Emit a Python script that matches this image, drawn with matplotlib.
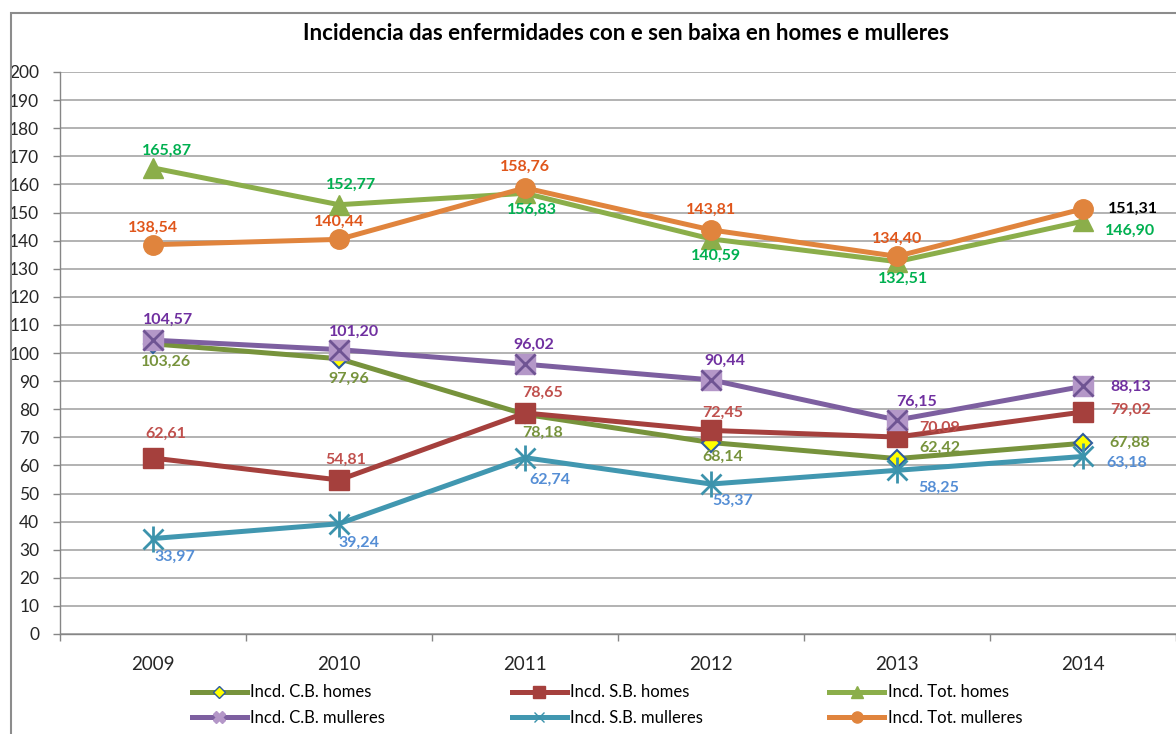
import matplotlib
matplotlib.use('Agg')
import matplotlib.pyplot as plt
from matplotlib.lines import Line2D
from matplotlib.patches import Rectangle

plt.rcParams['font.family'] = ['Lato', 'DejaVu Sans']

# Data
years = ['2009', '2010', '2011', '2012', '2013', '2014']
cb_homes = [103.26, 97.96, 78.18, 68.14, 62.42, 67.88]
sb_homes = [62.61, 54.81, 78.65, 72.45, 70.09, 79.02]
tot_homes = [165.87, 152.77, 156.83, 140.59, 132.51, 146.90]
cb_mulleres = [104.57, 101.20, 96.02, 90.44, 76.15, 88.13]
sb_mulleres = [33.97, 39.24, 62.74, 53.37, 58.25, 63.18]
tot_mulleres = [138.54, 140.44, 158.76, 143.81, 134.40, 151.31]

names = ['Incd. C.B. homes', 'Incd. S.B. homes', 'Incd. Tot. homes',
         'Incd. C.B. mulleres', 'Incd. S.B. mulleres', 'Incd. Tot. mulleres']

# label offsets in pixels (dx, dy), y up
off_cbh = [(13, -18), (10, -20), (18, -18), (12, -14), (43, 11), (47, 0)]
off_sbh = [(13, 24), (7, 20), (18, 20), (12, 18), (43, 9), (48, 2)]
off_toth = [(14, 17), (12, 20), (7, -16), (5, -17), (6, -17), (47, -10)]
off_cbm = [(15, 20), (15, 18), (9, 19), (14, 19), (20, 18), (48, 0)]
off_sbm = [(22, -18), (20, -19), (25, -22), (22, -17), (42, -17), (44, -6)]
off_totm = [(0, 17), (0, 18), (0, 21), (0, 20), (0, 18), (50, 0)]

W, H = 1176, 734
fig = plt.figure(figsize=(W / 100, H / 100), dpi=100)
ax = fig.add_axes([60 / W, 1 - 634 / H, 1 - 60 / W, (634 - 72) / H])

x = list(range(len(years)))
lw = 3.6

# C.B. homes
ax.plot(x, cb_homes, color='#77933C', lw=lw, marker='D', ms=9,
        mfc='#FFFF00', mec='#2E5C9E', mew=1.5, zorder=3)
# S.B. homes
ax.plot(x, sb_homes, color='#A5403D', lw=lw, marker='s', ms=15,
        mfc='#A5403D', mec='#A5403D', zorder=4)
# Tot. homes
ax.plot(x, tot_homes, color='#8BAE4A', lw=lw, marker='^', ms=15,
        mfc='#8BAE4A', mec='#8BAE4A', zorder=5)
# C.B. mulleres
ax.plot(x, cb_mulleres, color='#7D5FA0', lw=lw, marker='s', ms=15,
        mfc='#B497C8', mec='#B497C8', zorder=6)
ax.plot(x, cb_mulleres, ls='none', marker='x', ms=14, mec='#6F5493',
        mew=2, zorder=6.1)
# S.B. mulleres
ax.plot(x, sb_mulleres, color='#4197B0', lw=lw, marker='x', ms=14,
        mec='#3C93AC', mew=2, zorder=7)
ax.plot(x, sb_mulleres, ls='none', marker='|', ms=19, mec='#3C93AC',
        mew=2, zorder=7.1)
# Tot. mulleres
ax.plot(x, tot_mulleres, color='#E0843D', lw=lw, marker='o', ms=14,
        mfc='#E0843D', mec='#E0843D', zorder=8)

def add_labels(vals, offs, color, last_color=None):
    for i, (v, o) in enumerate(zip(vals, offs)):
        c = last_color if (last_color and i == len(vals) - 1) else color
        ax.annotate(f'{v:.2f}'.replace('.', ','), (i, v), xytext=o,
                    textcoords='offset pixels', ha='center', va='center',
                    fontsize=11.5, fontweight='bold', color=c, zorder=10)

add_labels(cb_homes, off_cbh, '#77933C')
add_labels(sb_homes, off_sbh, '#C0504D')
add_labels(tot_homes, off_toth, '#00B050')
add_labels(cb_mulleres, off_cbm, '#7030A0')
add_labels(sb_mulleres, off_sbm, '#558ED5')
add_labels(tot_mulleres, off_totm, '#E0561B', last_color='#000000')

ax.set_xlim(-0.5, 5.5)
ax.set_ylim(0, 200)
ax.set_yticks(range(0, 201, 10))
ax.set_xticks(x)
ax.set_xticklabels(years, fontsize=13.5)
ax.set_xticks([i - 0.5 for i in range(7)], minor=True)
ax.tick_params(axis='x', which='major', length=0, pad=16, colors='#262626')
ax.tick_params(axis='x', which='minor', length=5, color='#868686', width=1)
ax.tick_params(axis='y', length=5, color='#868686', width=1,
               labelsize=12.5, pad=10, labelcolor='#262626')
ax.yaxis.grid(True, color='#ADADAD', lw=1.3)
ax.set_axisbelow(True)
for s in ['top', 'right']:
    ax.spines[s].set_visible(False)
for s in ['left', 'bottom']:
    ax.spines[s].set_color('#868686')
    ax.spines[s].set_linewidth(1)

fig.text(626 / W, 1 - 33 / H,
         'Incidencia das enfermidades con e sen baixa en homes e mulleres',
         ha='center', va='center', fontsize=16, fontweight='bold',
         color='#000000')

# outer chart border
fig.patches.append(Rectangle((11 / W, -0.1), 1.2, 1.1 - 13 / H,
                             transform=fig.transFigure, fill=False,
                             ec='#8C8C8C', lw=1.5))

# legend (column-major order)
handles = [
    Line2D([], [], color='#77933C', lw=lw, marker='D', ms=6, mfc='#FFFF00', mec='#2E5C9E'),
    Line2D([], [], color='#7D5FA0', lw=lw, marker='X', ms=8, mfc='#B497C8', mec='#B497C8'),
    Line2D([], [], color='#A5403D', lw=lw, marker='s', ms=8, mfc='#A5403D', mec='#A5403D'),
    Line2D([], [], color='#4197B0', lw=lw, marker='x', ms=7, mec='#3C93AC', mew=1),
    Line2D([], [], color='#8BAE4A', lw=lw, marker='^', ms=8, mfc='#8BAE4A', mec='#8BAE4A'),
    Line2D([], [], color='#E0843D', lw=lw, marker='o', ms=8, mfc='#E0843D', mec='#E0843D'),
]
labels = [names[0], names[3], names[1], names[4], names[2], names[5]]
fig.legend(handles, labels, ncol=3, loc='center', bbox_to_anchor=(607 / W, 1 - 705 / H),
           frameon=False, fontsize=12, handlelength=3.3, handletextpad=0.2,
           columnspacing=7.6, labelspacing=0.55, borderpad=0)

plt.savefig('out.png', dpi=100)
